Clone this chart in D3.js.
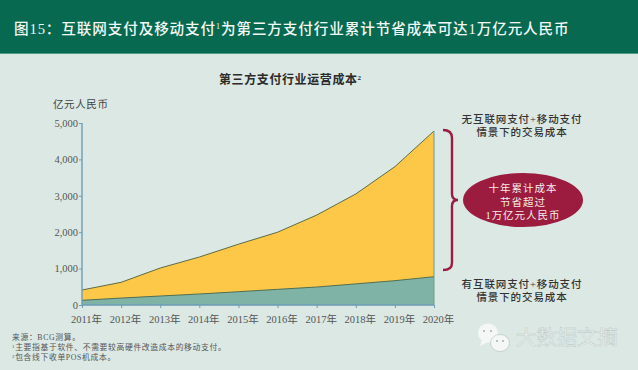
<!DOCTYPE html>
<html>
<head>
<meta charset="utf-8">
<script src="https://cdn.jsdelivr.net/npm/d3@7"></script>
<style>
html, body { margin: 0; padding: 0; background: #dbe8e4; }
svg { display: block; }
text { font-family: "Liberation Serif", "Noto Sans CJK SC", serif; }
</style>
</head>
<body>
<div id="chart"></div>
<script>
var width = 638;
var height = 370;

var years = ["2011年", "2012年", "2013年", "2014年", "2015年", "2016年", "2017年", "2018年", "2019年", "2020年"];
var costWithout = [412, 623, 1016, 1318, 1670, 2000, 2470, 3050, 3800, 4780];
var costWith = [129, 190, 247, 302, 365, 430, 494, 580, 668, 777];
var yTicks = [0, 1000, 2000, 3000, 4000, 5000];

var xScale = d3.scalePoint().domain(years).range([82, 434]);
var yScale = d3.scaleLinear().domain([0, 5000]).range([305, 123]);

var svg = d3.select("#chart").append("svg")
	.attr("width", width)
	.attr("height", height);

svg.append("rect").attr("width", width).attr("height", height).attr("fill", "#dbe8e4");

// header band
svg.append("rect").attr("width", width).attr("height", 54).attr("fill", "#076a50");
svg.append("rect").attr("y", 53).attr("width", width).attr("height", 1).attr("fill", "#4f9a84");

var title = svg.append("text")
	.attr("x", 14).attr("y", 34)
	.attr("fill", "#f2f7f4")
	.attr("font-size", 14.6)
	.attr("letter-spacing", 0.88)
	.attr("font-weight", 500);
title.append("tspan").text("图15：互联网支付及移动支付");
title.append("tspan").attr("font-size", 8).attr("dy", -5).text("1");
title.append("tspan").attr("dy", 5).text("为第三方支付行业累计节省成本可达1万亿元人民币");

var subtitle = svg.append("text")
	.attr("x", 219).attr("y", 84)
	.attr("fill", "#2b2b2b")
	.attr("font-size", 12)
	.attr("letter-spacing", 0.6)
	.attr("font-weight", 700);
subtitle.append("tspan").text("第三方支付行业运营成本");
subtitle.append("tspan").attr("font-size", 7).attr("dy", -4).text("2");

svg.append("text")
	.attr("x", 53).attr("y", 108)
	.attr("fill", "#444")
	.attr("font-size", 10.5)
	.attr("letter-spacing", 0.6)
	.text("亿元人民币");

// areas
var areaTop = d3.area()
	.x(function (d, i) { return xScale(years[i]); })
	.y0(yScale(0))
	.y1(function (d) { return yScale(d); });

var lineOf = d3.line()
	.x(function (d, i) { return xScale(years[i]); })
	.y(function (d) { return yScale(d); });

svg.append("path").attr("d", areaTop(costWithout)).attr("fill", "#fdc748");
svg.append("path").attr("d", areaTop(costWith)).attr("fill", "#7fb3a6");
svg.append("path").attr("d", lineOf(costWithout)).attr("fill", "none").attr("stroke", "#5d6b45").attr("stroke-width", 1);
svg.append("path").attr("d", lineOf(costWith)).attr("fill", "none").attr("stroke", "#4e6f55").attr("stroke-width", 1);
svg.append("line")
	.attr("x1", xScale(years[9])).attr("x2", xScale(years[9]))
	.attr("y1", yScale(costWithout[9])).attr("y2", yScale(0))
	.attr("stroke", "#6f9d8c").attr("stroke-width", 1);

// axes
var yAxis = d3.axisLeft(yScale)
	.tickValues(yTicks)
	.tickSize(3)
	.tickPadding(1)
	.tickFormat(d3.format(","));
var xAxis = d3.axisBottom(xScale)
	.tickSize(3)
	.tickPadding(4);

var gy = svg.append("g").attr("transform", "translate(82,0)").call(yAxis);
var gx = svg.append("g").attr("transform", "translate(0,305)").call(xAxis);

[gx, gy].forEach(function (g) {
	g.selectAll("path").attr("stroke", "#6d9db5").attr("stroke-width", 1.4);
	g.selectAll("line").attr("stroke", "#6d9db5");
	g.selectAll("text").attr("fill", "#555").attr("font-size", 10.5).attr("font-family", null);
});
gx.select("path").attr("d", "M82,0H434");
gy.select("path").attr("d", "M0," + yScale(5000) + "V" + yScale(0));
// the year labels sit a little right of and below their ticks
gx.selectAll("text").attr("dx", 4).attr("dy", "1.0em");

// brace
svg.append("path")
	.attr("d", "M443,130 Q452,130 452,138 V194 Q452,200 458,200 Q452,200 452,206 V263 Q452,270 443,270")
	.attr("fill", "none")
	.attr("stroke", "#9c1c40")
	.attr("stroke-width", 2.4);

// callout
svg.append("ellipse")
	.attr("cx", 523).attr("cy", 200)
	.attr("rx", 60).attr("ry", 27)
	.attr("fill", "#9c1c40");

var calloutLines = ["十年累计成本", "节省超过", "1万亿元人民币"];
svg.selectAll(".callout").data(calloutLines).enter().append("text")
	.attr("class", "callout")
	.attr("x", 523)
	.attr("y", function (d, i) { return 192 + i * 13.5; })
	.attr("text-anchor", "middle")
	.attr("fill", "#f6ece6")
	.attr("font-size", 10.5)
	.attr("letter-spacing", 1)
	.text(function (d) { return d; });

var noteTop = ["无互联网支付+移动支付", "情景下的交易成本"];
var noteBottom = ["有互联网支付+移动支付", "情景下的交易成本"];
function note(lines, y0) {
	svg.append("g").selectAll("text").data(lines).enter().append("text")
		.attr("x", 522)
		.attr("y", function (d, i) { return y0 + i * 13; })
		.attr("text-anchor", "middle")
		.attr("fill", "#333")
		.attr("font-size", 10.5)
		.attr("letter-spacing", 0.9)
		.attr("font-weight", 500)
		.text(function (d) { return d; });
}
note(noteTop, 123);
note(noteBottom, 288);

// footnotes
var footnotes = [["", "来源：BCG测算。"], ["1", "主要指基于软件、不需要较高硬件改造成本的移动支付。"], ["2", "包含线下收单POS机成本。"]];
footnotes.forEach(function (f, i) {
	var t = svg.append("text")
		.attr("x", 12).attr("y", 340 + i * 10)
		.attr("fill", "#555")
		.attr("font-size", 7.8)
		.attr("letter-spacing", 0.65);
	if (f[0]) t.append("tspan").attr("font-size", 5).attr("dy", -2).text(f[0]);
	t.append("tspan").attr("dy", f[0] ? 2 : 0).text(f[1]);
});

// watermark
var wm = svg.append("g");
wm.append("ellipse").attr("cx", 488).attr("cy", 333).attr("rx", 10).attr("ry", 9.5).attr("fill", "#f4f7f5");
wm.append("path").attr("d", "M482,340 L480,346 L488,342 Z").attr("fill", "#f4f7f5");
wm.append("ellipse").attr("cx", 500).attr("cy", 343).attr("rx", 9.5).attr("ry", 8.5).attr("fill", "#f4f7f5").attr("stroke", "#b8c6c2").attr("stroke-width", 0.7);
[[484, 331], [491, 331], [497, 341], [503, 341]].forEach(function (p) {
	wm.append("circle").attr("cx", p[0]).attr("cy", p[1]).attr("r", 0.9).attr("fill", "#9aa8a4");
});
svg.append("text")
	.attr("x", 516).attr("y", 345)
	.attr("fill", "#e6eeeb")
	.attr("stroke", "#b4c2be")
	.attr("stroke-width", 0.35)
	.attr("font-size", 20.4)
	.text("大数据文摘");
</script>
</body>
</html>
